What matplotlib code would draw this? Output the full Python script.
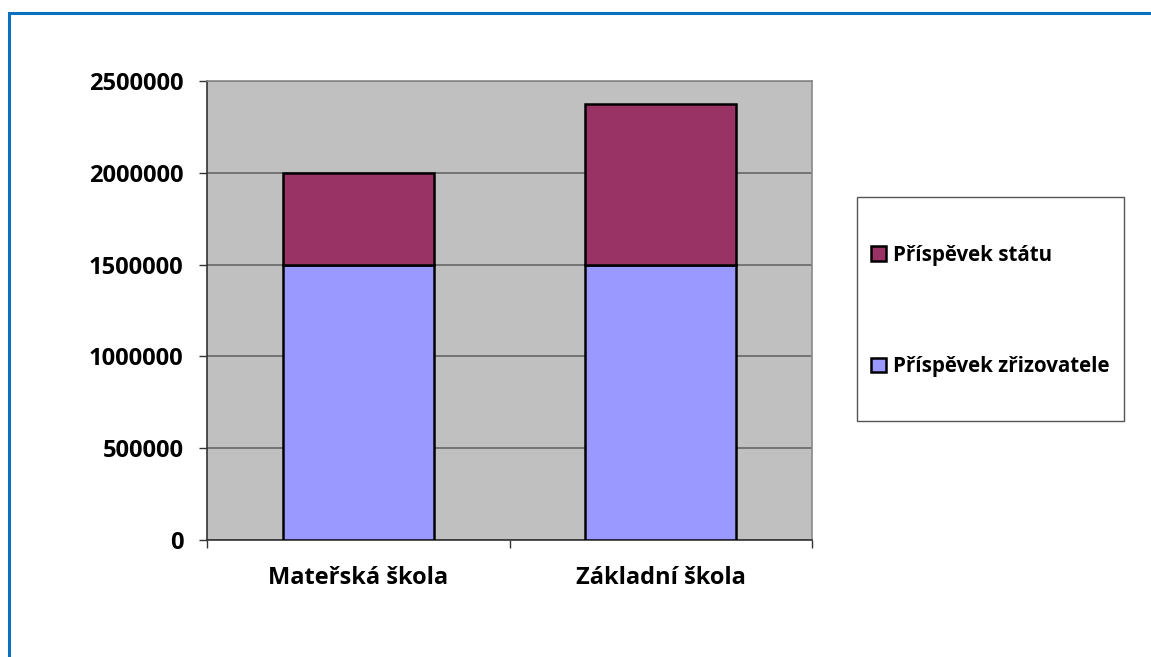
import matplotlib

matplotlib.use("Agg")

import matplotlib.pyplot as plt
from matplotlib.patches import Rectangle

plt.rcParams["font.family"] = ["Open Sans", "DejaVu Sans"]
plt.rcParams["font.weight"] = "bold"

categories = ["Mateřská škola", "Základní škola"]
zrizovatel = [1500000, 1500000]
stat = [500000, 875000]
series_labels = ["Příspěvek zřizovatele", "Příspěvek státu"]
yticks = [0, 500000, 1000000, 1500000, 2000000, 2500000]

C_LOWER = "#9999FF"
C_UPPER = "#993366"
C_PLOT = "#C0C0C0"
C_BORDER = "#0A70C0"
FS = 17
FS_LEG = 14.8
W, H = 1151, 657

fig = plt.figure(figsize=(W / 100, H / 100), dpi=100)
fig.patch.set_facecolor("white")

# blue outer frame (open to the right/bottom as in the source image)
fig.add_artist(Rectangle((8.5 / W, -0.05), 1.2, 1 - 12.5 / H + 0.05,
                         transform=fig.transFigure, fill=False,
                         edgecolor=C_BORDER, linewidth=2.2))

ax = fig.add_axes([207 / W, 1 - 540 / H, 605 / W, 459 / H])
ax.set_facecolor(C_PLOT)

x = list(range(len(categories)))
b1 = ax.bar(x, zrizovatel, width=0.5, color=C_LOWER, edgecolor="black",
            linewidth=1.8, label=series_labels[0], zorder=3)
b2 = ax.bar(x, stat, width=0.5, bottom=zrizovatel, color=C_UPPER,
            edgecolor="black", linewidth=1.8, label=series_labels[1], zorder=3)

ax.set_xlim(-0.5, 1.5)
ax.set_ylim(0, 2500000)
ax.set_yticks(yticks)
ax.set_yticklabels([str(v) for v in yticks], fontsize=FS, fontweight="bold")
ax.yaxis.grid(True, color="#666666", linewidth=1.2, zorder=1)
ax.set_axisbelow(True)

# category labels centered, ticks on category boundaries
ax.set_xticks([-0.5, 0.5, 1.5])
ax.set_xticklabels([])
ax.set_xticks(x, minor=True)
ax.set_xticklabels(categories, minor=True, fontsize=FS, fontweight="bold")
ax.tick_params(axis="x", which="minor", length=0, pad=19)
ax.tick_params(axis="x", which="major", length=6, width=1, color="#333333")
ax.tick_params(axis="y", length=6, width=1, color="#333333", pad=11)

for side in ("top", "right"):
    ax.spines[side].set_color("#888888")
    ax.spines[side].set_linewidth(1.2)
for side in ("left", "bottom"):
    ax.spines[side].set_color("#333333")
    ax.spines[side].set_linewidth(1.2)

# legend box drawn separately so its size matches the original
fig.add_artist(Rectangle((857 / W, 1 - 421 / H), 267 / W, 224 / H,
                         transform=fig.transFigure, fill=False,
                         edgecolor="#555555", linewidth=1.0))
leg = fig.legend([b2, b1], [series_labels[1], series_labels[0]],
                 loc="center left",
                 bbox_to_anchor=(871 / W, 1 - 311 / H),
                 bbox_transform=fig.transFigure,
                 frameon=False, fontsize=FS_LEG,
                 handlelength=0.72, handleheight=0.72, handletextpad=0.33,
                 labelspacing=4.4, borderpad=0, borderaxespad=0)
for t in leg.get_texts():
    t.set_fontweight("bold")

fig.savefig("out.png", dpi=100, facecolor="white")
